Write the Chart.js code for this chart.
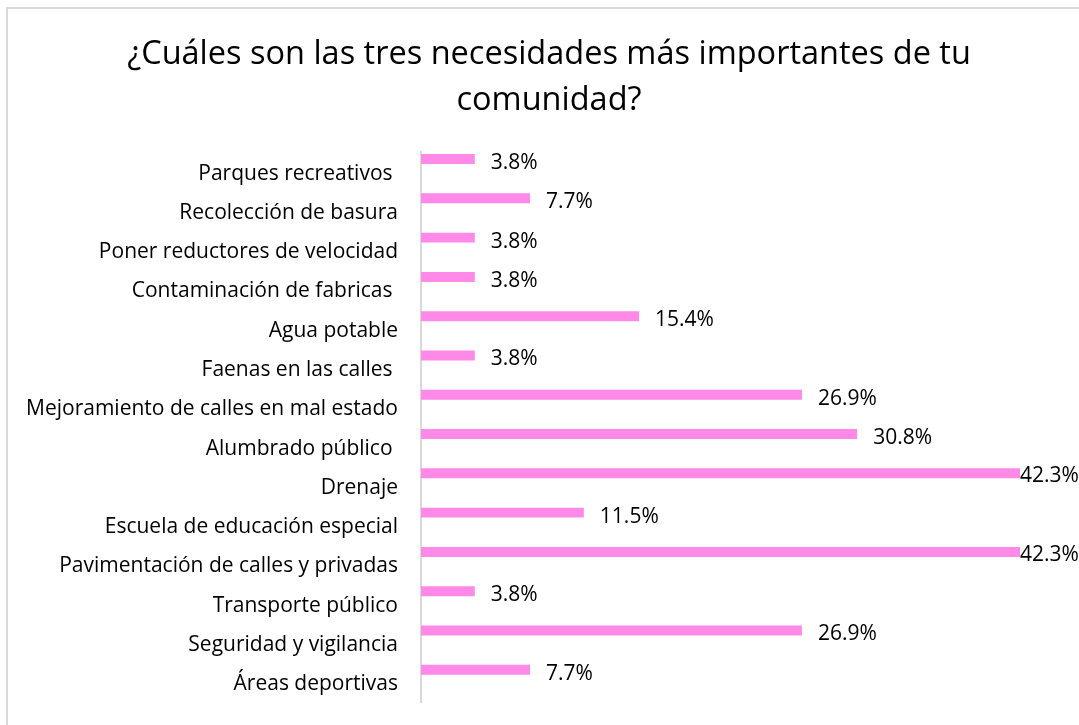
<!DOCTYPE html>
<html>
<head>
<meta charset="utf-8">
<script src="https://cdn.jsdelivr.net/npm/chart.js@4/dist/chart.umd.min.js"></script>
<style>
  html, body { margin: 0; padding: 0; background: #ffffff; }
  #wrap { position: relative; width: 1079px; height: 725px; }
</style>
</head>
<body>
<div id="wrap"><canvas id="c" width="1079" height="725"></canvas></div>
<script>
const titleLines = ["¿Cuáles son las tres necesidades más importantes de tu", "comunidad?"];
const categories = [
  "Parques recreativos ",
  "Recolección de basura",
  "Poner reductores de velocidad",
  "Contaminación de fabricas ",
  "Agua potable",
  "Faenas en las calles ",
  "Mejoramiento de calles en mal estado",
  "Alumbrado público ",
  "Drenaje",
  "Escuela de educación especial",
  "Pavimentación de calles y privadas",
  "Transporte público",
  "Seguridad y vigilancia",
  "Áreas deportivas"
];
const percentValues = [3.8, 7.7, 3.8, 3.8, 15.4, 3.8, 26.9, 30.8, 42.3, 11.5, 42.3, 3.8, 26.9, 7.7];
const emptySlotA = categories.map(() => null);
const emptySlotB = categories.map(() => null);

const FONT = "'Open Sans', 'Liberation Sans', sans-serif";
const LABEL_SIZE = 21;
const TITLE_SIZE = 32.5;

const framePlugin = {
  id: 'frame',
  beforeDraw(chart) {
    const ctx = chart.ctx;
    ctx.save();
    ctx.fillStyle = '#ffffff';
    ctx.fillRect(0, 0, chart.width, chart.height);
    ctx.strokeStyle = '#d9d9d9';
    ctx.lineWidth = 2;
    ctx.beginPath();
    ctx.moveTo(7, chart.height);
    ctx.lineTo(7, 8);
    ctx.lineTo(chart.width, 8);
    ctx.stroke();
    ctx.restore();
  },
  afterDraw(chart) {
    const ctx = chart.ctx;
    ctx.save();
    ctx.fillStyle = '#000000';
    ctx.font = TITLE_SIZE + 'px ' + FONT;
    ctx.textAlign = 'center';
    ctx.textBaseline = 'middle';
    ctx.fillText(titleLines[0], 549, 55);
    ctx.fillText(titleLines[1], 549, 101);
    ctx.restore();
  }
};

const valueLabelPlugin = {
  id: 'valueLabels',
  afterDatasetsDraw(chart) {
    const ctx = chart.ctx;
    const meta = chart.getDatasetMeta(0);
    ctx.save();
    ctx.font = LABEL_SIZE + 'px ' + FONT;
    ctx.fillStyle = '#000000';
    ctx.textAlign = 'left';
    ctx.textBaseline = 'middle';
    meta.data.forEach((bar, i) => {
      const txt = percentValues[i].toFixed(1) + '%';
      const w = ctx.measureText(txt).width;
      let x = bar.x + 16;
      let dy = 4;
      if (x + w > chart.width - 1) { x = bar.x; dy = 3; }
      ctx.fillText(txt, x, bar.y + dy);
    });
    ctx.restore();
  }
};

new Chart(document.getElementById('c'), {
  type: 'bar',
  data: {
    labels: categories,
    datasets: [
      { data: percentValues, backgroundColor: '#ff89e9', borderWidth: 0 },
      { data: emptySlotA, backgroundColor: 'rgba(0,0,0,0)' },
      { data: emptySlotB, backgroundColor: 'rgba(0,0,0,0)' }
    ]
  },
  options: {
    indexAxis: 'y',
    responsive: false,
    animation: false,
    devicePixelRatio: 1,
    categoryPercentage: 0.962,
    barPercentage: 0.79,
    layout: { padding: { left: 0, right: 59, top: 152, bottom: 23 } },
    plugins: {
      legend: { display: false },
      title: { display: false },
      tooltip: { enabled: false }
    },
    scales: {
      x: {
        display: false,
        min: 0,
        max: 42.3
      },
      y: {
        afterFit(scale) {
          scale.width = 421;
          scale.paddingTop = 0;
          scale.paddingBottom = 0;
        },
        grid: { display: true, drawOnChartArea: false, drawTicks: false },
        border: { display: true, color: '#d9d9d9', width: 2 },
        ticks: {
          padding: 23,
          labelOffset: 2,
          color: '#000000',
          font: { family: FONT, size: LABEL_SIZE }
        }
      }
    }
  },
  plugins: [framePlugin, valueLabelPlugin]
});
</script>
</body>
</html>
